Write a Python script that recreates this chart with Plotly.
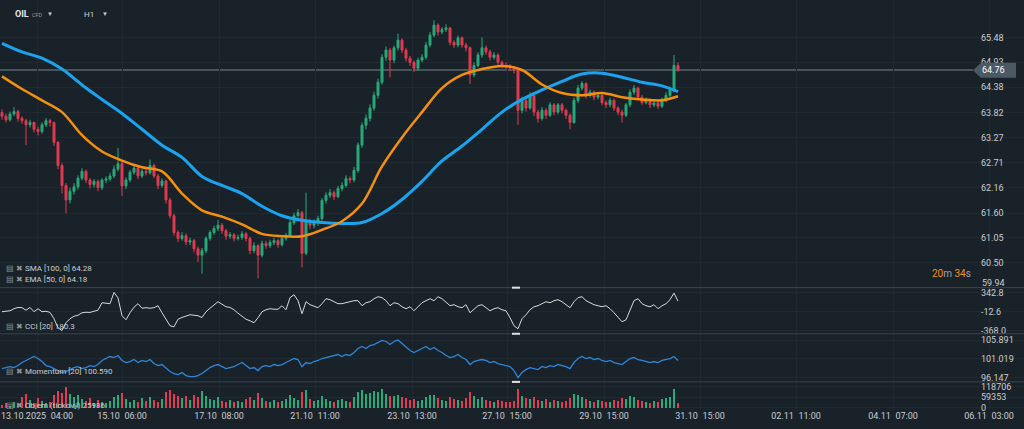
import plotly.graph_objects as go

W, H = 1024, 429
FIG_H = 434  # the browser viewport is a little taller than 429; paper fractions below use H

# ---------------- data ----------------
closes = [63.74, 63.66, 63.79, 63.84, 63.69,
          63.64, 63.55, 63.60, 63.45, 63.40, 63.55, 63.64, 63.60,
          63.16, 62.65, 62.21, 61.89, 62.08, 62.18, 62.37, 62.52,
          62.33, 62.23, 62.30, 62.16, 62.33, 62.35, 62.42, 62.57, 62.69,
          62.20, 62.33, 62.50, 62.59, 62.42, 62.52, 62.49, 62.65, 62.42, 62.21,
          62.31, 61.89, 61.54, 61.17, 61.04, 61.10, 60.96, 60.99, 60.81, 60.67,
          60.77, 61.04, 61.17, 61.26, 61.33, 61.21, 61.09, 61.12, 61.04, 61.06,
          61.14, 61.04, 60.77, 60.88, 60.67, 60.93, 60.88, 60.95, 60.99, 60.90,
          61.04, 61.10, 61.39, 61.54, 61.61, 60.71, 61.40, 61.33, 61.39, 61.48,
          61.88, 61.99, 62.05, 61.96, 62.14, 62.21, 62.36, 62.33, 62.54, 63.10,
          63.54, 63.69, 63.92, 64.20, 64.49, 65.04, 65.20, 64.98, 65.25, 65.42,
          65.20, 65.02, 64.93, 64.80, 64.98, 65.04, 65.31, 65.53, 65.75, 65.60,
          65.65, 65.69, 65.37, 65.31, 65.47, 65.31, 65.25, 64.65, 64.86, 65.09,
          65.25, 65.16, 65.04, 65.09, 64.93, 64.86, 64.85, 64.80, 64.76, 63.87,
          64.09, 63.92, 64.20, 63.83, 63.69, 63.87, 63.76, 63.99, 63.83, 63.99,
          63.87, 63.76, 63.60, 64.09, 64.36, 64.46, 64.20, 64.27, 64.16, 64.20,
          64.04, 63.99, 64.09, 63.92, 63.83, 63.76, 63.99, 64.27, 64.36, 64.16,
          64.04, 64.09, 63.99, 64.03, 63.96, 64.09, 64.20, 64.32, 64.86, 64.76]
first_open = 63.82
opens = [first_open] + closes[:-1]
highs = [63.89, 63.80, 63.84, 63.94, 63.88,
         63.74, 63.68, 63.66, 63.62, 63.51, 63.60, 63.70, 63.68,
         63.62, 63.19, 62.71, 62.26, 62.16, 62.26, 62.43, 62.59,
         62.56, 62.37, 62.35, 62.34, 62.37, 62.41, 62.49, 62.65, 63.04,
         62.73, 62.39, 62.55, 62.65, 62.63, 62.57, 62.59, 62.78, 62.69, 62.47,
         62.37, 62.34, 61.94, 61.59, 61.22, 61.18, 61.15, 61.06, 61.03, 60.86,
         60.83, 61.09, 61.22, 61.32, 61.45, 61.38, 61.25, 61.18, 61.16, 61.12,
         61.20, 61.18, 61.08, 60.95, 60.91, 60.99, 60.99, 61.01, 61.05, 61.03,
         61.09, 61.16, 61.45, 61.61, 61.69, 61.65, 62.05, 61.48, 61.46, 61.54,
         61.93, 62.06, 62.13, 62.10, 62.20, 62.28, 62.43, 62.41, 62.62, 63.16,
         63.60, 63.78, 64.00, 64.28, 64.57, 65.11, 65.28, 65.25, 65.30, 65.56,
         65.46, 65.25, 65.07, 64.97, 65.03, 65.11, 65.38, 65.60, 65.86, 65.79,
         65.71, 65.77, 65.71, 65.42, 65.52, 65.50, 65.36, 65.28, 64.93, 65.15,
         65.48, 65.30, 65.21, 65.15, 65.13, 64.97, 64.93, 64.89, 64.85, 64.80,
         64.17, 64.13, 64.27, 64.23, 63.88, 63.94, 63.92, 64.05, 64.03, 64.03,
         64.03, 63.91, 63.80, 64.15, 64.43, 64.51, 64.49, 64.33, 64.31, 64.27,
         64.23, 64.09, 64.15, 64.13, 63.96, 63.88, 64.03, 64.33, 64.43, 64.39,
         64.21, 64.15, 64.13, 64.09, 64.07, 64.15, 64.27, 64.39, 65.09, 64.93]
lows = [63.66, 63.60, 63.62, 63.74, 63.62,
        63.57, 63.10, 63.49, 63.38, 63.31, 63.35, 63.50, 63.51,
        63.08, 62.57, 62.03, 61.59, 61.81, 62.01, 62.12, 62.32,
        62.26, 62.14, 62.16, 62.08, 62.11, 62.26, 62.30, 62.37, 62.52,
        61.98, 62.13, 62.28, 62.45, 62.35, 62.37, 62.43, 62.45, 62.37, 62.13,
        62.16, 61.81, 61.48, 61.10, 60.96, 60.99, 60.89, 60.89, 60.73, 60.52,
        60.26, 60.71, 60.99, 61.12, 61.20, 61.14, 61.01, 61.03, 60.97, 60.99,
        61.01, 60.97, 60.69, 60.71, 60.16, 60.62, 60.81, 60.83, 60.89, 60.83,
        60.86, 60.99, 61.07, 61.34, 61.50, 60.40, 60.67, 61.25, 61.26, 61.32,
        61.43, 61.81, 61.93, 61.89, 61.93, 62.08, 62.16, 62.26, 62.28, 62.49,
        63.04, 63.45, 63.62, 63.86, 64.13, 64.44, 64.96, 64.60, 64.91, 65.19,
        65.13, 64.95, 64.85, 64.72, 64.74, 64.93, 64.99, 65.26, 65.48, 65.52,
        65.55, 65.60, 65.30, 65.25, 65.26, 65.25, 65.17, 64.45, 64.60, 64.82,
        65.03, 65.09, 64.97, 64.99, 64.87, 64.80, 64.78, 64.74, 64.68, 63.55,
        63.80, 63.84, 63.88, 63.74, 63.60, 63.64, 63.68, 63.72, 63.76, 63.78,
        63.80, 63.68, 63.45, 63.57, 64.03, 64.31, 64.13, 64.15, 64.09, 64.11,
        63.98, 63.92, 63.94, 63.86, 63.76, 63.60, 63.72, 63.94, 64.21, 64.09,
        63.99, 64.00, 63.92, 63.94, 63.90, 63.92, 64.05, 64.15, 64.27, 64.72]
volumes = [15200, 24800, 10300, 34600, 19800,
           61200, 79500, 44300, 30100, 55600, 39800, 24700, 35300,
           70400, 94800, 85100, 118706, 80200, 59700, 75300, 50100,
           40300, 55200, 29800, 45600, 35100, 24900, 40200, 60300, 75400,
           85200, 49800, 35400, 45100, 30200, 55300, 40100, 60200, 45300, 35200,
           50300, 90100, 99800, 80300, 70100, 55200, 65300, 45200, 75100, 60300,
           95200, 70100, 50200, 45300, 60100, 40200, 35300, 45100, 30200, 40300,
           35100, 50200, 60300, 45200, 85100, 55300, 40200, 35100, 45300, 30200,
           40100, 50300, 70200, 55100, 45200, 90300, 100100, 50200, 40300, 45100,
           65200, 50100, 40300, 35200, 45100, 50300, 40200, 35100, 60300, 90200,
           100300, 80100, 85200, 95300, 90100, 110200, 80300, 70100, 65200, 75300,
           60100, 55200, 45300, 50100, 40200, 45300, 60100, 70200, 75300, 55100,
           45200, 40300, 60100, 50200, 45300, 40100, 55200, 90300, 65100, 50200,
           60300, 45100, 40200, 35300, 45100, 40200, 30300, 35100, 40200, 105300,
           70100, 55200, 50300, 60100, 45200, 40300, 50100, 35200, 45300, 40100,
           35200, 40300, 55100, 80200, 70300, 60100, 50200, 40300, 35100, 45200,
           40100, 35300, 30200, 45100, 40300, 55200, 50100, 65300, 60200, 45100,
           40300, 35200, 30100, 40300, 35200, 50100, 55300, 60200, 105100, 25986]
cci_values = [-18, -9, 0, 38, 62, 57, 10, 62, -18, 38, -18, -9, -31,
              -149, -318, -368.0, -224, -149, -103, -84, -37,
              -28, -31, -9, 10, 150, 141, 132, 342.8, 240,
              -93, -168, -37, 66, 132, 47, 57, 47, 57, 94,
              -37, -158, -280, -299, -158, -125, -103, -74, -84, -93,
              -125, -18, 47, 103, 169, 122, 75, 62, 19, -46,
              -103, -158, -187, -224, -130, -18, 19, 38, 28, 28,
              94, 19, 244, 300, 188, -55, 169, 113, 85, 57,
              132, 225, 206, 169, 132, 132, 150, 156, 188, 188,
              94, 150, 169, 225, 262, 244, 188, 94, 150, 132,
              75, 38, 75, 0, 75, 150, 188, 225, 188, 262,
              225, 150, 94, 113, 75, 57, 113, -37, 38, 94,
              113, 57, 0, 38, 57, 19, 0, -130, -280, -336,
              -149, -74, 19, 75, 94, 132, 169, 150, 188, 206,
              169, 113, 57, 169, 244, 262, 188, 150, 113, 94,
              75, 94, 38, -37, -130, -205, -168, 0, 188, 225,
              132, 94, 75, 113, 38, 94, 132, 206, 330, 180.3]
momentum_values = [98.49, 98.75, 99.01, 98.75, 99.27, 100.06, 100.59, 101.10, 101.62, 101.10, 100.32, 99.27, 99.01,
                   98.49, 97.97, 97.45, 97.71, 98.23, 98.75, 99.01, 98.49,
                   98.75, 99.27, 99.01, 99.54, 100.59, 101.10, 101.62, 101.36, 101.88,
                   100.59, 100.06, 100.32, 100.84, 100.06, 100.59, 100.32, 100.84, 99.80, 99.27,
                   99.54, 98.49, 97.71, 97.19, 96.93, 97.45, 96.66, 96.41, 96.41, 96.66,
                   97.19, 97.97, 98.75, 99.27, 99.54, 99.01, 98.49, 98.75, 99.01, 99.54,
                   100.06, 99.27, 98.49, 98.75, 97.97, 99.01, 99.27, 99.01, 99.54, 99.27,
                   99.54, 100.06, 100.59, 101.10, 100.84, 99.01, 100.06, 99.80, 100.32, 100.59,
                   101.10, 101.36, 101.62, 101.88, 102.14, 101.62, 102.14, 101.88, 102.66, 103.70,
                   104.22, 103.70, 104.48, 104.74, 105.27, 105.79, 105.53, 104.74, 105.53, 105.891,
                   105.00, 103.96, 103.18, 102.66, 103.18, 103.70, 104.22, 103.44, 103.96, 103.18,
                   102.66, 101.88, 101.36, 101.62, 102.14, 101.36, 100.84, 99.54, 100.32, 100.59,
                   100.84, 100.59, 100.06, 100.32, 99.80, 99.54, 99.27, 99.01, 97.97, 96.147,
                   97.45, 98.23, 98.75, 98.49, 98.23, 99.01, 98.75, 99.27, 99.01, 99.54,
                   99.27, 99.01, 98.49, 100.06, 101.10, 101.62, 101.10, 101.36, 100.84, 101.10,
                   100.59, 100.32, 100.59, 100.06, 99.80, 99.54, 100.32, 101.10, 101.36, 100.84,
                   100.59, 100.32, 100.06, 100.32, 100.06, 100.59, 100.84, 101.10, 101.62, 100.590]
ma_bars = [0, 5, 10, 15, 20, 25, 30, 35, 40, 45, 50, 55, 60, 65, 70, 75, 80, 85,
           90, 95, 100, 105, 110, 115, 120, 125, 130, 135, 140, 145, 150, 155, 160, 165, 169]
sma_values = [65.35, 65.16, 65.02, 64.78, 64.43, 64.11, 63.80, 63.45, 63.10, 62.83, 62.41, 62.21,
              62.03, 61.75, 61.54, 61.44, 61.39, 61.37, 61.39, 61.59, 61.90, 62.30, 62.75, 63.08,
              63.45, 63.83, 64.11, 64.32, 64.51, 64.67, 64.69, 64.60, 64.49, 64.41, 64.28]
ema_values = [64.62, 64.34, 64.09, 63.83, 63.32, 62.96, 62.76, 62.61, 62.52, 62.03, 61.66, 61.52,
              61.35, 61.14, 61.09, 61.09, 61.23, 61.42, 61.81, 62.63, 63.27, 63.83, 64.36, 64.65,
              64.78, 64.85, 64.76, 64.44, 64.25, 64.20, 64.25, 64.16, 64.11, 64.09, 64.18]
last_price = 64.76

price_ticks = [65.48, 64.93, 64.38, 63.82, 63.27, 62.71, 62.16, 61.60, 61.05, 60.50]
price_bottom_label = "59.94"
cci_ticks = [342.8, -12.6, -368.0]
mom_ticks = [105.891, 101.019, 96.147]
vol_ticks = [118706, 59353, 0]
time_tick_bars = [8.75, 30, 54.25, 78.25, 102.5, 126.25, 150.5, 174.5, 198.5, 222.75, 246.75]
time_tick_labels = ["13.10.2025\u200204:00", "15.10\u200206:00", "17.10\u200208:00", "21.10\u200211:00",
                    "23.10\u200213:00", "27.10\u200215:00", "29.10\u200215:00", "31.10\u200215:00",
                    "02.11\u200211:00", "04.11\u200207:00", "06.11\u200203:00"]

# ---------------- style ----------------
BG = "#1a2229"
GRID = "#20292f"
SEP = "#38444d"
TXT = "#c8cdd1"
UP = "#27ab7b"
DOWN = "#e23a50"
FONT = "Roboto, Noto Sans, sans-serif"

bars = list(range(len(closes)))


def px_x(p):
    return p / W


def px_y(p):
    return 1 - p / H


fig = go.Figure()
fig.add_trace(go.Candlestick(
    x=bars, open=opens, high=highs, low=lows, close=closes,
    increasing=dict(line=dict(color=UP, width=1), fillcolor=UP),
    decreasing=dict(line=dict(color=DOWN, width=1), fillcolor=DOWN),
    whiskerwidth=0, xaxis="x", yaxis="y", showlegend=False))
fig.add_trace(go.Scatter(x=ma_bars, y=sma_values, mode="lines", line=dict(color="#1aa3ee", width=3, shape="spline"),
                         xaxis="x", yaxis="y", showlegend=False))
fig.add_trace(go.Scatter(x=ma_bars, y=ema_values, mode="lines", line=dict(color="#f5900f", width=2.5, shape="spline"),
                         xaxis="x", yaxis="y", showlegend=False))
fig.add_trace(go.Scatter(x=bars, y=cci_values, mode="lines", line=dict(color="#d5d9dc", width=1),
                         xaxis="x2", yaxis="y2", showlegend=False))
fig.add_trace(go.Scatter(x=bars, y=momentum_values, mode="lines", line=dict(color="#2f86d8", width=1.3),
                         xaxis="x3", yaxis="y3", showlegend=False))
vol_colors = [UP if c >= o else DOWN for o, c in zip(opens, closes)]
fig.add_trace(go.Bar(x=bars, y=volumes, marker=dict(color=vol_colors, line=dict(width=0)), width=0.5,
                     xaxis="x4", yaxis="y4", showlegend=False))

# panel domains (pixel rows)
dom_main = [px_y(287), 1.0]
dom_cci = [px_y(333), px_y(287)]
dom_mom = [px_y(381), px_y(333)]
dom_vol = [px_y(408), px_y(381)]
YPOS = px_x(980)

xcommon = dict(range=[-0.5, 255.5], domain=[0, 1], tickvals=time_tick_bars, ticktext=time_tick_labels,
               showgrid=True, gridcolor=GRID, gridwidth=1, zeroline=False, showline=False, ticks="",
               fixedrange=True)
ycommon = dict(side="right", anchor="free", position=YPOS, showline=False, zeroline=False, ticks="",
               tickfont=dict(size=9, color=TXT, family=FONT), gridcolor=GRID, showgrid=True)

fig.update_layout(
    width=W, height=FIG_H, margin=dict(l=0, r=0, t=0, b=0),
    paper_bgcolor=BG, plot_bgcolor=BG, font=dict(family=FONT, color=TXT), bargap=0,
    xaxis=dict(**xcommon, anchor="y", showticklabels=False, rangeslider=dict(visible=False)),
    xaxis2=dict(**xcommon, anchor="y2", showticklabels=False, matches="x"),
    xaxis3=dict(**xcommon, anchor="y3", showticklabels=False, matches="x"),
    xaxis4=dict(**xcommon, anchor="y4", showticklabels=True, matches="x",
                tickfont=dict(size=9, color=TXT, family=FONT)),
    yaxis=dict(**ycommon, domain=dom_main, range=[59.952, 66.306], tickvals=price_ticks,
               ticktext=[f"{v:.2f}" for v in price_ticks]),
    yaxis2=dict(**ycommon, domain=dom_cci, range=[-429.5, 430.7], tickvals=cci_ticks,
                ticktext=[f"{v:.1f}" for v in cci_ticks]),
    yaxis3=dict(**ycommon, domain=dom_mom, range=[95.028, 107.532], tickvals=mom_ticks,
                ticktext=[f"{v:.3f}" for v in mom_ticks]),
    yaxis4=dict(**ycommon, domain=dom_vol, range=[-7454, 147364], tickvals=vol_ticks,
                ticktext=[str(v) for v in vol_ticks]),
)

shapes = []
# current price line
shapes.append(dict(type="line", xref="paper", yref="y", x0=0, x1=px_x(973), y0=last_price, y1=last_price,
                   line=dict(color="#47535d", width=2), layer="below"))
# current price tag
tag = [(973, 70), (981, 62.5), (1016, 62.5), (1016, 77.5), (981, 77.5)]
path = "M " + " L ".join(f"{px_x(a):.5f},{px_y(b):.5f}" for a, b in tag) + " Z"
shapes.append(dict(type="path", xref="paper", yref="paper", path=path, fillcolor="#4b5964",
                   line=dict(width=0)))
# panel separators
for yy in (287, 333, 381):
    shapes.append(dict(type="line", xref="paper", yref="paper", x0=0, x1=1, y0=px_y(yy), y1=px_y(yy),
                       line=dict(color=SEP, width=1)))
    shapes.append(dict(type="line", xref="paper", yref="paper", x0=px_x(512), x1=px_x(520),
                       y0=px_y(yy), y1=px_y(yy), line=dict(color="#dfe3e6", width=2)))
fig.update_layout(shapes=shapes)

ICON = "<span style='color:#8a949b'>\u25a4 \u2716</span> "
ann = []


def text(x, y, s, size=8, color=TXT, anchor="left"):
    ann.append(dict(x=px_x(x), y=px_y(y), xref="paper", yref="paper", text=s, showarrow=False,
                    xanchor=anchor, yanchor="middle", font=dict(size=size, color=color, family=FONT)))


text(980, 70, "64.76", size=9, color="#ffffff")
text(980, 282, price_bottom_label, size=9)
text(13, 14, "<b>OIL</b>", size=9, color="#e4e7e9")
text(30, 14.5, "CFD", size=5.5, color="#939ca2")
text(45, 13, "\u25bc", size=6, color="#c8cdd1")
text(82, 14, "H1", size=8, color="#d0d4d7")
text(100, 13, "\u25bc", size=6, color="#c8cdd1")
text(4, 268, ICON + "SMA [100, 0] 64.28", size=8)
text(4, 278.5, ICON + "EMA [50, 0] 64.18", size=8)
text(4, 326, ICON + "CCI [20] 180.3", size=8)
text(4, 371, ICON + "Momentum [20] 100.590", size=8)
text(4, 405, ICON + "Objem (tickový) 25986", size=8)
text(930, 273, "<span style='color:#f0900f'>20</span><span style='color:#9aa3a9'>m </span>"
               "<span style='color:#f0900f'>34</span><span style='color:#9aa3a9'>s</span>", size=10)
fig.update_layout(annotations=ann)

POST = ("document.documentElement.style.margin='0';document.documentElement.style.overflow='hidden';"
        "document.body.style.margin='0';document.body.style.overflow='hidden';"
        "document.body.style.background='#1a2229';document.documentElement.style.background='#1a2229';"
        "var gd=document.querySelector('.plotly-graph-div');gd.style.display='block';")
fig.write_html("out.html", config={"displayModeBar": False}, post_script=POST)
